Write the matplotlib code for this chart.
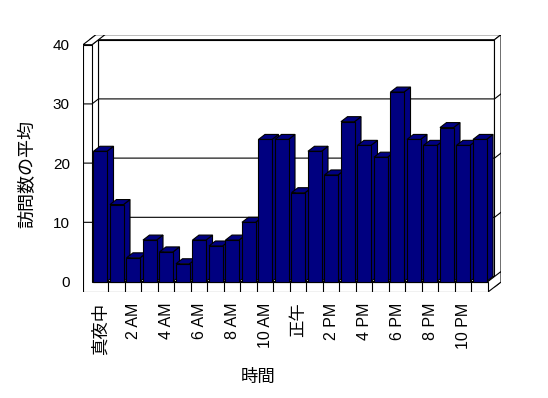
import numpy as np
import matplotlib
matplotlib.use('Agg')
import matplotlib.pyplot as plt
from matplotlib.patches import Polygon

plt.rcParams['font.family'] = ['Liberation Sans', 'Noto Sans CJK JP', 'DejaVu Sans']

# average visits per hour (0:00 .. 23:00)
hours = list(range(24))
visits = [22, 13, 4, 7, 5, 3, 7, 6, 7, 10, 24, 24,
          15, 22, 18, 27, 23, 21, 32, 24, 23, 26, 23, 24]
tick_pos = [0, 2, 4, 6, 8, 10, 12, 14, 16, 18, 20, 22]
tick_labels = ['真夜中', '2 AM', '4 AM', '6 AM', '8 AM', '10 AM',
               '正午', '2 PM', '4 PM', '6 PM', '8 PM', '10 PM']
y_ticks = [0, 10, 20, 30, 40]

navy = '#000080'
lw = 0.8
DX, DY = 0.394, 0.845      # depth offset (category units, value units)
W = 0.82                   # bar width
WALL = 0.545               # left wall thickness
FLOOR = 1.77               # floor thickness
XL, XR = -0.5, 23.5
YTOP = 40

fig = plt.figure(figsize=(5.48, 3.98), dpi=100)
ax = fig.add_axes([83/548, (398-292)/398, 418/548, 257.3/398])
ax.set_xlim(XL - WALL, XR + 2*DX)
ax.set_ylim(-FLOOR, YTOP + 2*DY)
for s in ax.spines.values():
    s.set_visible(False)


def poly(pts, z, fc='white'):
    ax.add_patch(Polygon(pts, closed=True, facecolor=fc, edgecolor='black',
                         linewidth=lw, zorder=z, joinstyle='miter'))


# back wall (front face, top, right side)
poly([(XL + DX, DY), (XR + DX, DY), (XR + DX, YTOP + DY), (XL + DX, YTOP + DY)], 1)
poly([(XL - WALL + DX, YTOP + DY), (XR + DX, YTOP + DY),
      (XR + 2*DX, YTOP + 2*DY), (XL - WALL + 2*DX, YTOP + 2*DY)], 1)
poly([(XR + DX, -FLOOR + DY), (XR + 2*DX, -FLOOR + 2*DY),
      (XR + 2*DX, YTOP + 2*DY), (XR + DX, YTOP + DY)], 1)

# floor top and right side
poly([(XL, 0), (XR, 0), (XR + DX, DY), (XL + DX, DY)], 1.2)
poly([(XR, -FLOOR), (XR, 0), (XR + 2*DX, 2*DY), (XR + 2*DX, 2*DY - FLOOR)], 1.2)

# left wall inner face and top
poly([(XL, 0), (XL + DX, DY), (XL + DX, YTOP + DY), (XL, YTOP)], 1.3)
poly([(XL - WALL, YTOP), (XL, YTOP), (XL + 2*DX, YTOP + 2*DY),
      (XL - WALL + 2*DX, YTOP + 2*DY)], 1.3)

# front face of left wall + floor (L shape)
poly([(XL - WALL, -FLOOR), (XR, -FLOOR), (XR, 0), (XL, 0), (XL, YTOP),
      (XL - WALL, YTOP)], 1.4)
for k in range(1, 24):
    ax.plot([XL + k, XL + k], [-FLOOR, 0], color='black', lw=lw, zorder=1.5)

# gridlines
for v in y_ticks[1:-1]:
    ax.plot([XL - WALL, XL, XL + DX, XR + DX, XR + 2*DX],
            [v, v, v + DY, v + DY, v + 2*DY],
            color='black', lw=lw, zorder=1.6)

# bars
bars = ax.bar(hours, visits, width=W, color=navy, edgecolor='black', linewidth=lw)
for i, (x, v) in enumerate(zip(hours, visits)):
    bars[i].set_zorder(3 + 2*i + 1)
    r = x + W/2
    l = x - W/2
    poly([(r, 0), (r + DX, DY), (r + DX, v + DY), (r, v)], 3 + 2*i, navy)
    poly([(l, v), (r, v), (r + DX, v + DY), (l + DX, v + DY)], 3 + 2*i, navy)

# ticks and labels
ax.set_yticks(y_ticks)
ax.set_yticklabels([str(t) for t in y_ticks], fontsize=11)
ax.tick_params(axis='y', length=0, pad=9.5)
ax.set_xticks(tick_pos)
ax.set_xticklabels(tick_labels, rotation=90, va='top')
ax.tick_params(axis='x', length=0, pad=7.5)
for t in ax.get_xticklabels():
    if t.get_text() in ('真夜中', '正午'):
        t.set_fontsize(12.5)
    else:
        t.set_fontsize(11.5)

ax.set_xlabel('時間', fontsize=12.5, va='center')
ax.xaxis.set_label_coords((258 - 83) / 418, (292 - 377) / 257.3)
ax.set_ylabel('訪問数の平均', fontsize=13, va='center')
ax.yaxis.set_label_coords((28 - 83) / 418, (292 - 174) / 257.3)

plt.savefig('out.png', dpi=100)
